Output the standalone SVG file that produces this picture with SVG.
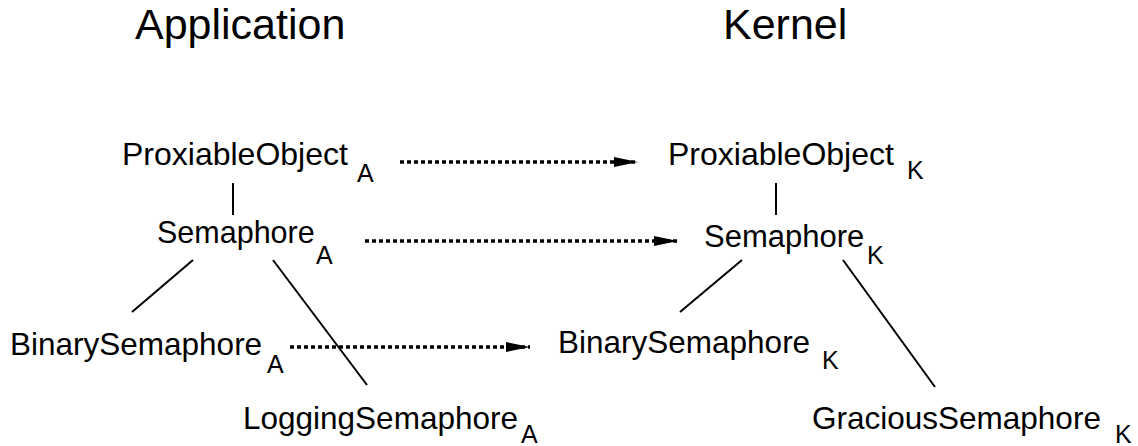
<svg xmlns="http://www.w3.org/2000/svg" width="1138" height="446" viewBox="0 0 1138 446">
  <defs>
    <marker id="arrow" markerWidth="24" markerHeight="10" refX="24" refY="5" orient="auto" markerUnits="userSpaceOnUse">
      <path d="M0,0 L24,5 L0,10 Z" fill="#000"/>
    </marker>
    <style>
      text { font-family: "Liberation Sans", Arial, sans-serif; fill: #000; }
      .title { font-size: 43px; }
      .lbl { font-size: 31.5px; }
      .sub { font-size: 25px; }
      .edge { stroke: #000; stroke-width: 2; fill: none; }
      .map { stroke: #000; stroke-width: 3.5; stroke-dasharray: 4 3; fill: none; marker-end: url(#arrow); }
    </style>
  </defs>
  <rect width="1138" height="446" fill="#fff"/>

  <g id="titles">
    <text class="title" x="135" y="39">Application</text>
    <text class="title" x="723" y="39">Kernel</text>
  </g>

  <g id="connectors">
    <line class="edge" x1="233" y1="183" x2="233" y2="215"/>
    <line class="edge" x1="776" y1="183" x2="776" y2="215"/>
    <line class="edge" x1="193" y1="260" x2="132" y2="312"/>
    <line class="edge" x1="273" y1="260" x2="367" y2="385"/>
    <line class="edge" x1="742" y1="260" x2="680" y2="312"/>
    <line class="edge" x1="843" y1="260" x2="935" y2="387"/>
    <line class="map" x1="400" y1="162" x2="638" y2="162"/>
    <line class="map" x1="365" y1="241" x2="678" y2="241"/>
    <line class="map" x1="290" y1="347" x2="530" y2="347"/>
  </g>

  <g id="proxiable-a">
    <text class="lbl" x="122" y="165" style="font-size:32px">ProxiableObject</text>
    <text class="sub" x="357" y="182">A</text>
  </g>
  <g id="proxiable-k">
    <text class="lbl" x="668" y="165" style="font-size:32px">ProxiableObject</text>
    <text class="sub" x="907" y="179">K</text>
  </g>
  <g id="semaphore-a">
    <text class="lbl" x="157" y="243" style="font-size:30.5px">Semaphore</text>
    <text class="sub" x="316" y="264">A</text>
  </g>
  <g id="semaphore-k">
    <text class="lbl" x="704" y="247" style="font-size:31px">Semaphore</text>
    <text class="sub" x="867" y="264">K</text>
  </g>
  <g id="binary-a">
    <text class="lbl" x="10" y="355">BinarySemaphore</text>
    <text class="sub" x="267" y="373">A</text>
  </g>
  <g id="binary-k">
    <text class="lbl" x="558" y="353">BinarySemaphore</text>
    <text class="sub" x="822" y="369">K</text>
  </g>
  <g id="logging-a">
    <text class="lbl" x="243" y="429">LoggingSemaphore</text>
    <text class="sub" x="521" y="443">A</text>
  </g>
  <g id="gracious-k">
    <text class="lbl" x="812" y="429">GraciousSemaphore</text>
    <text class="sub" x="1115" y="443">K</text>
  </g>
</svg>
